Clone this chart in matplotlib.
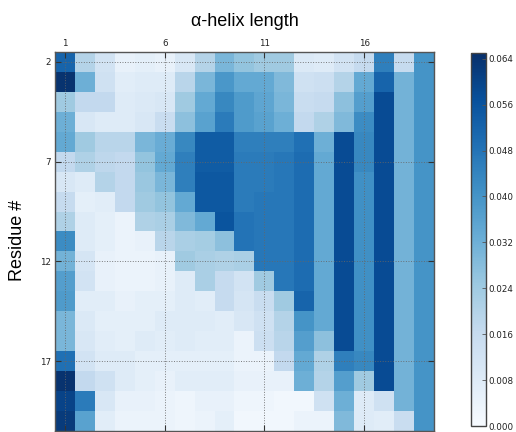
import numpy as np
import matplotlib
matplotlib.use("Agg")
import matplotlib.pyplot as plt

residues = list(range(2, 21))      # rows
lengths = list(range(1, 20))       # columns
x_ticks = [1, 6, 11, 16]
y_ticks = [2, 7, 12, 17]
cbar_ticks = [0.000, 0.008, 0.016, 0.024, 0.032, 0.040, 0.048, 0.056, 0.064]

r02 = [0.052, 0.020, 0.012, 0.005, 0.006, 0.005, 0.010, 0.020, 0.030, 0.026, 0.024, 0.024, 0.009, 0.008, 0.012, 0.016, 0.045, 0.016, 0.040]
r03 = [0.064, 0.032, 0.013, 0.007, 0.008, 0.008, 0.019, 0.030, 0.039, 0.034, 0.034, 0.029, 0.013, 0.014, 0.020, 0.034, 0.052, 0.031, 0.040]
r04 = [0.024, 0.017, 0.017, 0.008, 0.009, 0.010, 0.024, 0.034, 0.043, 0.038, 0.035, 0.030, 0.015, 0.016, 0.027, 0.037, 0.058, 0.031, 0.040]
r05 = [0.032, 0.010, 0.008, 0.008, 0.010, 0.015, 0.027, 0.036, 0.046, 0.038, 0.036, 0.032, 0.017, 0.021, 0.029, 0.042, 0.058, 0.031, 0.040]
r06 = [0.034, 0.024, 0.019, 0.019, 0.030, 0.033, 0.043, 0.054, 0.054, 0.045, 0.045, 0.045, 0.049, 0.032, 0.058, 0.043, 0.058, 0.031, 0.040]
r07 = [0.017, 0.021, 0.018, 0.017, 0.026, 0.034, 0.045, 0.054, 0.054, 0.046, 0.046, 0.047, 0.050, 0.034, 0.058, 0.043, 0.058, 0.031, 0.040]
r08 = [0.010, 0.008, 0.020, 0.017, 0.025, 0.030, 0.045, 0.055, 0.055, 0.046, 0.046, 0.047, 0.050, 0.034, 0.058, 0.041, 0.058, 0.031, 0.040]
r09 = [0.016, 0.006, 0.007, 0.017, 0.024, 0.026, 0.034, 0.055, 0.055, 0.046, 0.047, 0.047, 0.050, 0.034, 0.058, 0.041, 0.058, 0.031, 0.040]
r10 = [0.021, 0.008, 0.006, 0.004, 0.021, 0.022, 0.029, 0.034, 0.056, 0.048, 0.047, 0.047, 0.050, 0.034, 0.058, 0.041, 0.058, 0.031, 0.040]
r11 = [0.042, 0.008, 0.006, 0.004, 0.005, 0.019, 0.022, 0.023, 0.027, 0.048, 0.047, 0.047, 0.050, 0.034, 0.058, 0.041, 0.058, 0.031, 0.040]
r12 = [0.031, 0.011, 0.005, 0.004, 0.004, 0.005, 0.024, 0.022, 0.021, 0.022, 0.047, 0.047, 0.050, 0.034, 0.058, 0.041, 0.058, 0.031, 0.040]
r13 = [0.037, 0.012, 0.005, 0.004, 0.004, 0.005, 0.008, 0.022, 0.016, 0.012, 0.024, 0.047, 0.050, 0.034, 0.058, 0.041, 0.058, 0.031, 0.040]
r14 = [0.038, 0.007, 0.007, 0.005, 0.006, 0.006, 0.008, 0.007, 0.016, 0.011, 0.015, 0.024, 0.052, 0.034, 0.058, 0.041, 0.058, 0.031, 0.040]
r15 = [0.030, 0.009, 0.006, 0.006, 0.006, 0.008, 0.008, 0.008, 0.007, 0.010, 0.013, 0.020, 0.040, 0.034, 0.058, 0.041, 0.058, 0.031, 0.040]
r16 = [0.030, 0.010, 0.007, 0.006, 0.008, 0.007, 0.008, 0.007, 0.007, 0.004, 0.014, 0.019, 0.037, 0.027, 0.058, 0.041, 0.058, 0.031, 0.040]
r17 = [0.049, 0.012, 0.008, 0.008, 0.006, 0.006, 0.006, 0.006, 0.006, 0.004, 0.004, 0.017, 0.034, 0.021, 0.045, 0.043, 0.058, 0.031, 0.040]
r18 = [0.064, 0.017, 0.013, 0.008, 0.006, 0.005, 0.007, 0.007, 0.007, 0.005, 0.005, 0.005, 0.032, 0.020, 0.037, 0.024, 0.058, 0.031, 0.040]
r19 = [0.060, 0.046, 0.010, 0.005, 0.005, 0.004, 0.003, 0.005, 0.005, 0.003, 0.003, 0.002, 0.002, 0.013, 0.032, 0.008, 0.013, 0.031, 0.040]
r20 = [0.062, 0.036, 0.007, 0.004, 0.004, 0.004, 0.003, 0.004, 0.006, 0.002, 0.002, 0.002, 0.004, 0.004, 0.029, 0.008, 0.007, 0.015, 0.040]

data = np.array([r02, r03, r04, r05, r06, r07, r08, r09, r10, r11, r12,
                 r13, r14, r15, r16, r17, r18, r19, r20])

fig = plt.figure(figsize=(5.16, 4.32), dpi=100)
ax = fig.add_axes([55 / 516, 1 / 432, 379 / 516, 379 / 432])
im = ax.imshow(data, cmap="Blues", vmin=0, vmax=0.065, interpolation="nearest",
               aspect="auto",
               extent=(lengths[0] - 0.5, lengths[-1] + 0.5,
                       residues[-1] + 0.5, residues[0] - 0.5))

ax.set_xticks(x_ticks)
ax.set_yticks(y_ticks)
ax.xaxis.tick_top()
ax.tick_params(axis="both", direction="in", length=4, width=0.8,
               top=True, bottom=True, left=True, right=True,
               labeltop=True, labelbottom=False, labelsize=6.3, pad=3,
               color="#333333", labelcolor="#222222")
ax.grid(True, linestyle=":", color="#666666", linewidth=0.7, alpha=0.85)
for s in ax.spines.values():
    s.set_color("#555555")
    s.set_linewidth(1.0)

fig.text(244.5 / 516, 1 - 22 / 432, "\u03b1-helix length", ha="center", va="center",
         fontsize=13, family="Liberation Sans")
fig.text(18 / 516, 1 - 240 / 432, "Residue #", ha="center", va="center",
         rotation=90, fontsize=13, family="Liberation Sans")

cax = fig.add_axes([471 / 516, 6 / 432, 15 / 516, 373 / 432])
cb = fig.colorbar(im, cax=cax, ticks=cbar_ticks)
cb.ax.yaxis.set_major_formatter(matplotlib.ticker.FormatStrFormatter("%.3f"))
cb.ax.tick_params(direction="in", length=3, width=0.6, labelsize=6.3, pad=2,
                  color="#555555", labelcolor="#222222")
cb.outline.set_edgecolor("#444444")
cb.outline.set_linewidth(1.0)

fig.savefig("out.png", dpi=100)
